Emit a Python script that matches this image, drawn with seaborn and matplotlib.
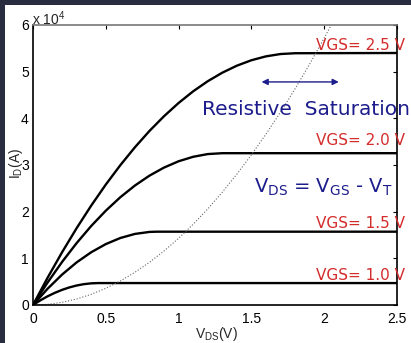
import numpy as np
import pandas as pd
import matplotlib
matplotlib.use("Agg")
import matplotlib.pyplot as plt
import seaborn as sns
from matplotlib.patches import Rectangle

# ---- data (I_D in units of 1e4) ----
vds_10 = [0, 0.05, 0.10, 0.15, 0.20, 0.25, 0.30, 0.35, 0.40, 0.45, 0.50, 2.50]
id_10 = [0, 0.099, 0.186, 0.261, 0.325, 0.377, 0.418, 0.447, 0.464, 0.470, 0.470, 0.470]

vds_15 = [0, 0.1, 0.2, 0.3, 0.4, 0.5, 0.6, 0.7, 0.8, 0.85, 2.5]
id_15 = [0, 0.348, 0.653, 0.914, 1.131, 1.305, 1.436, 1.523, 1.566, 1.571, 1.571]

vds_20 = [0, 0.1, 0.2, 0.3, 0.4, 0.5, 0.6, 0.7, 0.8, 0.9, 1.0, 1.1, 1.2, 1.3, 2.5]
id_20 = [0, 0.481, 0.924, 1.328, 1.694, 2.021, 2.310, 2.560, 2.772, 2.945, 3.080,
         3.176, 3.234, 3.253, 3.253]

vds_25 = [0, 0.1, 0.2, 0.3, 0.4, 0.5, 0.6, 0.7, 0.8, 0.9, 1.0, 1.1, 1.2, 1.3,
          1.4, 1.5, 1.6, 1.7, 1.8, 2.5]
id_25 = [0, 0.583, 1.132, 1.648, 2.131, 2.581, 2.997, 3.380, 3.730, 4.046, 4.329,
         4.579, 4.795, 4.978, 5.128, 5.245, 5.328, 5.378, 5.395, 5.400]

vds_edge = [0, 0.1, 0.2, 0.3, 0.4, 0.5, 0.6, 0.7, 0.8, 0.9, 1.0, 1.1, 1.2, 1.3,
            1.4, 1.5, 1.6, 1.7, 1.8, 1.9, 2.0, 2.05]
id_edge = [0, 0.014, 0.057, 0.129, 0.229, 0.358, 0.515, 0.701, 0.915, 1.158, 1.430,
           1.730, 2.059, 2.417, 2.803, 3.218, 3.661, 4.133, 4.633, 5.162, 5.720, 6.010]

curve_names = ["VGS= 1.0 V", "VGS= 1.5 V", "VGS= 2.0 V", "VGS= 2.5 V"]
label_y = [0.54, 1.65, 3.43, 5.46]

x_ticks = [0, 0.5, 1, 1.5, 2, 2.5]
x_ticklabels = ["0", "0.5", "1", "1.5", "2", "2.5"]
y_ticks = [0, 1, 2, 3, 4, 5, 6]
y_ticklabels = ["0", "1", "2", "3", "4", "5", "6"]

df = pd.concat([
    pd.DataFrame({"V": vds_10, "I": id_10, "curve": curve_names[0]}),
    pd.DataFrame({"V": vds_15, "I": id_15, "curve": curve_names[1]}),
    pd.DataFrame({"V": vds_20, "I": id_20, "curve": curve_names[2]}),
    pd.DataFrame({"V": vds_25, "I": id_25, "curve": curve_names[3]}),
], ignore_index=True)
df_edge = pd.DataFrame({"V": vds_edge, "I": id_edge})

sns.set_theme(style="white")
plt.rcParams["font.family"] = ["Liberation Sans", "DejaVu Sans"]
plt.rcParams["mathtext.default"] = "regular"

W, H = 411, 343
fig = plt.figure(figsize=(W / 100, H / 100), dpi=100, facecolor="white")
dark = "#2a2c3f"
fig.patches.append(Rectangle((0, 0), 5 / W, 1, transform=fig.transFigure,
                             facecolor=dark, edgecolor="none", zorder=-5))
fig.patches.append(Rectangle((0, 1 - 5 / H), 1, 5 / H, transform=fig.transFigure,
                             facecolor=dark, edgecolor="none", zorder=-5))
ax = fig.add_axes([33 / W, (H - 305) / H, 364 / W, 280 / H])
ax.set_facecolor("white")

sns.lineplot(data=df, x="V", y="I", hue="curve", palette=["black"] * 4, linewidth=1.7,
             sort=False, estimator=None, legend=False, ax=ax)
sns.lineplot(data=df_edge, x="V", y="I", color="#666666", linewidth=0.8, linestyle=":",
             sort=False, estimator=None, ax=ax)

ax.set_xlim(0, 2.5)
ax.set_ylim(0, 6)
ax.set_xticks(x_ticks)
ax.set_xticklabels(x_ticklabels)
ax.set_yticks(y_ticks)
ax.set_yticklabels(y_ticklabels)
ax.tick_params(direction="in", length=3, width=0.8, top=True, right=True,
               labelsize=10, colors="black")
ax.tick_params(axis="x", pad=5)
ax.tick_params(axis="y", pad=3)
for s in ["left", "right", "bottom"]:
    ax.spines[s].set_color("black")
    ax.spines[s].set_linewidth(1.2)
ax.spines["top"].set_color("#777777")
ax.spines["top"].set_linewidth(1.2)

ax.set_xlabel(r"V$_{DS}$(V)", fontsize=10)
ax.xaxis.set_label_coords(0.503, -0.072)
ax.set_ylabel(r"I$_{D}$(A)", fontsize=10)
ax.yaxis.set_label_coords(-0.022, 0.507)

ax.text(-0.005, 6.0, r"x 10$^{4}$", fontsize=10, ha="left", va="baseline", clip_on=False)

for name, yy in zip(curve_names, label_y):
    ax.text(2.555, yy, name, color="#d42b2b", fontsize=11, ha="right", va="baseline",
            family="DejaVu Sans", clip_on=False)

ax.text(1.161, 4.07, "Resistive  Saturation", color="#1c1c8c", fontsize=14.5,
        ha="left", va="baseline", family="DejaVu Sans", clip_on=False)
ax.text(1.52, 2.40, r"V$_{DS}$ = V$_{GS}$ - V$_{T}$", color="#1c1c8c",
        fontsize=14, ha="left", va="baseline", family="DejaVu Sans", clip_on=False)
ax.annotate("", xy=(2.10, 4.78), xytext=(1.57, 4.78),
            arrowprops=dict(arrowstyle="<|-|>", color="#1c1c8c", lw=1.0,
                            mutation_scale=9, shrinkA=0, shrinkB=0))

fig.savefig("out.png", dpi=100)
